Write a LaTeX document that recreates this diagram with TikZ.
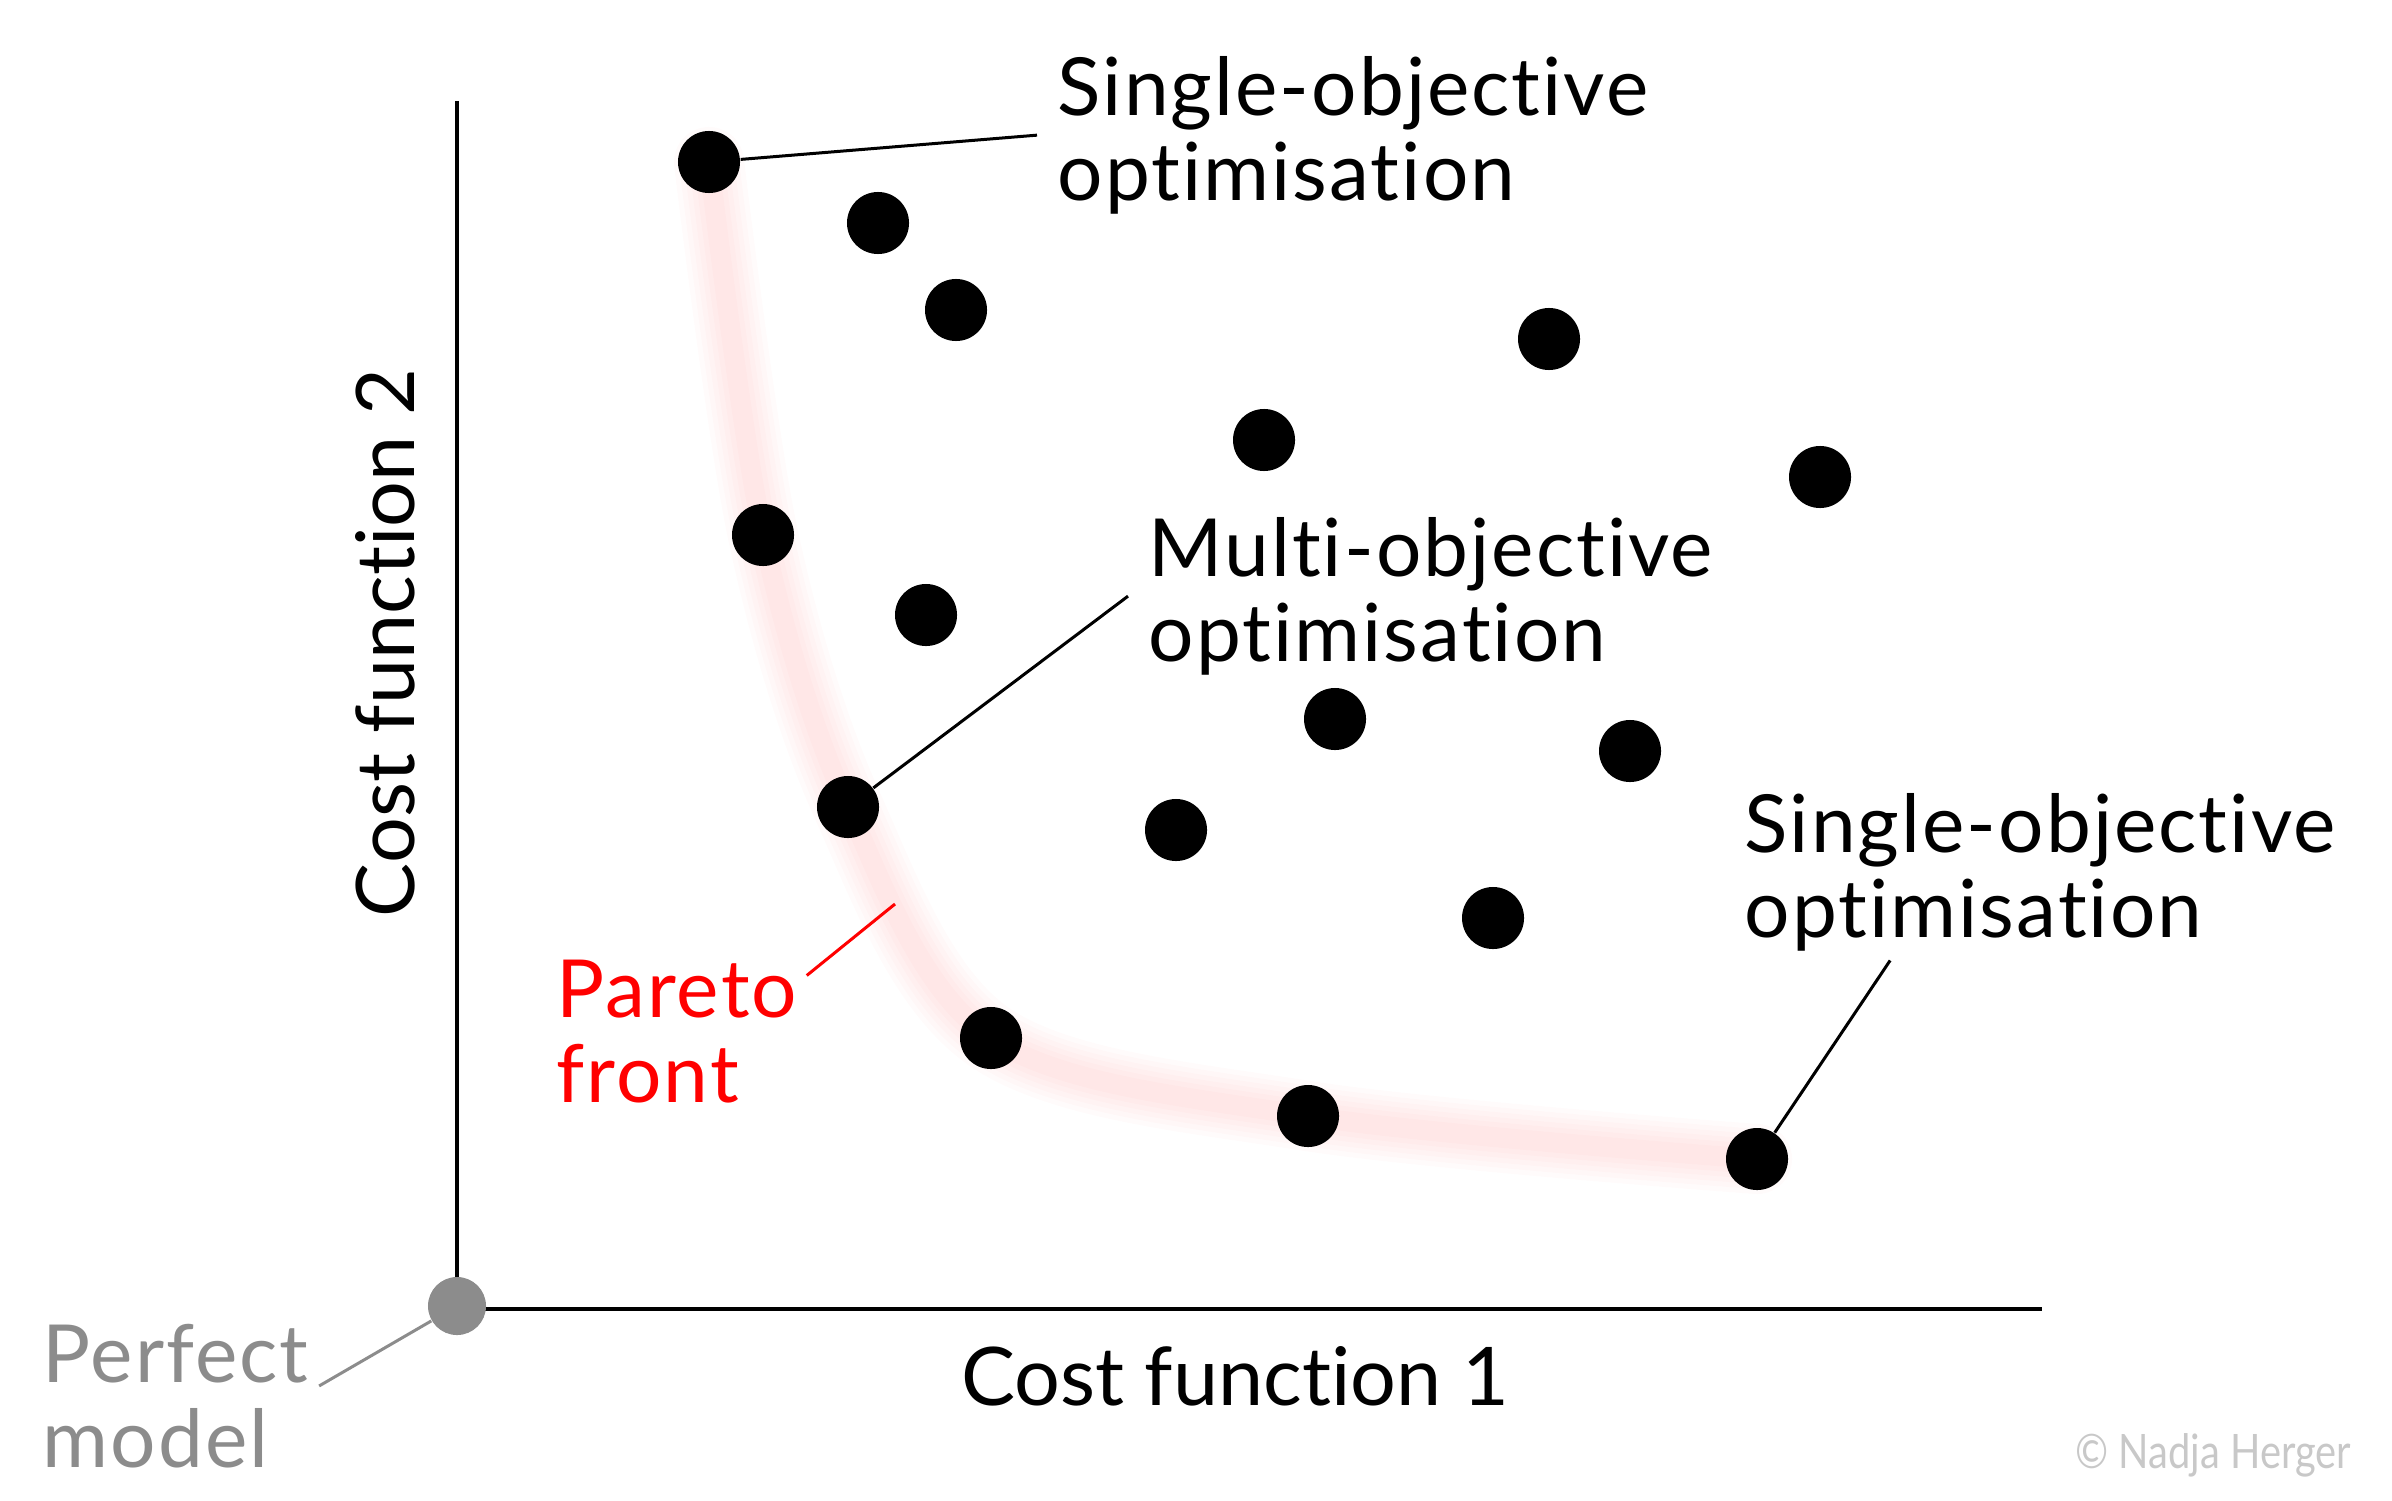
\documentclass[tikz,border=0pt]{standalone}
\usepackage{fontspec}
\setmainfont{Lato}[Ligatures={NoCommon}]
\newfontfamily\notefont{Lato}[Ligatures={NoCommon}, LetterSpace=2.5]
\usepackage{graphicx}
\usetikzlibrary{positioning,backgrounds}
\definecolor{pmgray}{RGB}{140,140,140}
\definecolor{cgray}{RGB}{200,200,200}

\begin{document}
\begin{tikzpicture}[x=0.01cm,y=-0.01cm]
            \tikzstyle{point}=[circle, fill=black, minimum size=6.2mm, inner sep=0pt]
            \tikzstyle{origin}=[circle, fill=pmgray, minimum size=5.8mm, inner sep=0pt]
            \tikzstyle{note}=[align=left, inner sep=2mm, font=\notefont\fontsize{22.8}{24}\selectfont]
            \tikzstyle{axislabel}=[inner sep=0pt, font=\fontsize{23}{24}\selectfont]
            \tikzstyle{connect}=[line width=0.3mm]
            \tikzstyle{axis}=[line width=0.35mm]
            \useasboundingbox (0,0) rectangle (2392,1500);

            % axes
            \coordinate (Ytop) at (457,101);
            \coordinate (Zero) at (457,1309);
            \coordinate (Xend) at (2042,1309);
            \draw[axis] (Ytop) -- (Zero) -- (Xend);
            \node[origin] (O) at (457,1306){};
            \node[axislabel, anchor=base] (CF1) at (1235,1405){Cost function 1};
            \node[axislabel, anchor=base, rotate=90] (CF2) at (414,643){Cost function 2};

            % Pareto front
            \node[point] (F1) at (709,162){};
            \node[point] (F2) at (763,535){};
            \node[point] (F3) at (848,807){};
            \node[point] (F4) at (991,1038){};
            \node[point] (F5) at (1308,1116){};
            \node[point] (F6) at (1757,1159){};

            % dominated solutions
            \node[point] (D1) at (878,223){};
            \node[point] (D2) at (956,310){};
            \node[point] (D3) at (1549,339){};
            \node[point] (D4) at (1264,440){};
            \node[point] (D5) at (1820,477){};
            \node[point] (D6) at (926,615){};
            \node[point] (D7) at (1335,719){};
            \node[point] (D8) at (1630,751){};
            \node[point] (D9) at (1176,830){};
            \node[point] (D10) at (1493,918){};

            \begin{pgfonlayer}{background}
            \foreach \w in {7,6,5,4,3,2}
                \draw[red, opacity=0.015, line width=\w mm, line cap=round, line join=round]
                    plot[smooth, tension=0.55] coordinates {(F1.center) (F2.center) (F3.center) (F4.center) (F5.center) (F6.center)};
            \end{pgfonlayer}

            % labels (base = last line)
            \node[note, anchor=base west] (SO1) at (1037,200){Single-objective\\optimisation};
            \node[note, anchor=base west] (MO) at (1128,661){Multi-objective\\optimisation};
            \node[note, anchor=base west] (SO2) at (1724,937){Single-objective\\optimisation};
            \node[note, anchor=base west, text=red] (PF) at (536,1102){Pareto\\front};
            \node[note, anchor=base west, text=pmgray] (PM) at (22,1467){Perfect\\model};
            \node[anchor=base east, inner sep=0pt, text=cgray, font=\fontsize{13.5}{14}\selectfont] (CR) at (2352,1468){\scalebox{0.84}[1]{© Nadja Herger}};

            \coordinate (PFend) at (895,904);
            \path[-] (F1) edge [connect] (SO1.west);
            \path[-] (F3) edge [connect] (MO.west);
            \path[-] (F6) edge [connect] ([xshift=1.66cm,yshift=0.11cm]SO2.south west);
            \path[-] (PFend) edge [connect, red] ([xshift=-0.11cm,yshift=-0.36cm]PF.north east);
            \path[-] (O) edge [connect, pmgray] ([xshift=-0.1cm,yshift=0.1cm]PM.east);

        \end{tikzpicture}
\end{document}
